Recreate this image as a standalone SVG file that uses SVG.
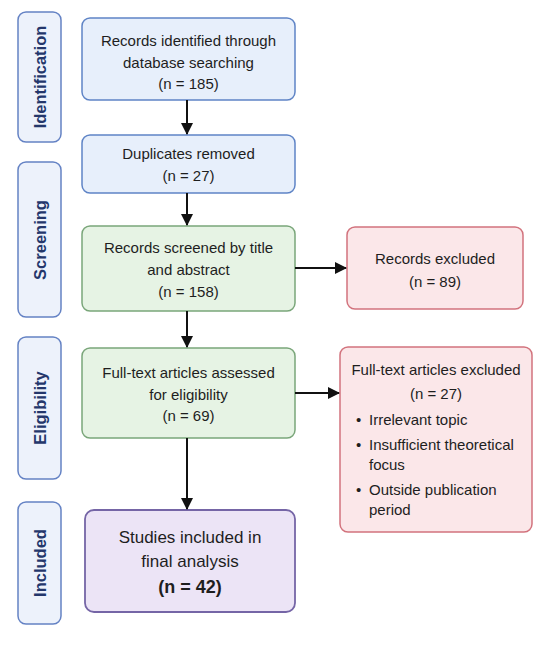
<svg xmlns="http://www.w3.org/2000/svg" width="538" height="671" viewBox="0 0 538 671">
<defs>
<marker id="ah" markerWidth="12" markerHeight="12" refX="11" refY="6" orient="auto" markerUnits="userSpaceOnUse">
<path d="M0,0 L12,6 L0,12 Z" fill="#111"/>
</marker>
<style>
.t{font-family:"Liberation Sans",Arial,sans-serif;font-size:15px;fill:#1e1e1e;text-anchor:middle}
.b{text-anchor:start}
.side rect{fill:#edf2fb;stroke:#6482c4;stroke-width:1.5}
.side text{font-family:"Liberation Sans",Arial,sans-serif;font-size:16.5px;font-weight:bold;fill:#24376b;text-anchor:middle}
.blue{fill:#e7effb;stroke:#5f84c6;stroke-width:1.5}
.green{fill:#e6f3e4;stroke:#7aa67a;stroke-width:1.5}
.red{fill:#fbe7e9;stroke:#d2737d;stroke-width:1.5}
.purple{fill:#ece4f6;stroke:#7565a6;stroke-width:1.8}
.c line{stroke:#111;stroke-width:2;fill:none}
</style>
</defs>
<rect width="538" height="671" fill="#ffffff"/>

<g id="side-identification" class="side">
<rect x="18" y="12" width="43" height="130" rx="8"/>
<text transform="translate(45.5,77) rotate(-90)">Identification</text>
</g>
<g id="side-screening" class="side">
<rect x="18" y="162" width="43" height="155" rx="8"/>
<text transform="translate(45.5,240) rotate(-90)">Screening</text>
</g>
<g id="side-eligibility" class="side">
<rect x="18" y="337" width="43" height="142" rx="8"/>
<text transform="translate(45.5,408) rotate(-90)">Eligibility</text>
</g>
<g id="side-included" class="side">
<rect x="18" y="502" width="43" height="122" rx="8"/>
<text transform="translate(45.5,563) rotate(-90)">Included</text>
</g>

<g id="identified">
<rect class="blue" x="82" y="18" width="213" height="82" rx="8"/>
<text class="t" x="188.5" y="46">Records identified through</text>
<text class="t" x="188.5" y="68">database searching</text>
<text class="t" x="188.5" y="89">(n = 185)</text>
</g>
<g id="duplicates">
<rect class="blue" x="82" y="135" width="213" height="58" rx="8"/>
<text class="t" x="188.5" y="159">Duplicates removed</text>
<text class="t" x="188.5" y="181">(n = 27)</text>
</g>
<g id="screened">
<rect class="green" x="82" y="226" width="213" height="85" rx="8"/>
<text class="t" x="188.5" y="253">Records screened by title</text>
<text class="t" x="188.5" y="275">and abstract</text>
<text class="t" x="188.5" y="297">(n = 158)</text>
</g>
<g id="fulltext">
<rect class="green" x="82" y="348" width="213" height="90" rx="8"/>
<text class="t" x="188.5" y="378">Full-text articles assessed</text>
<text class="t" x="188.5" y="400">for eligibility</text>
<text class="t" x="188.5" y="421">(n = 69)</text>
</g>
<g id="included">
<rect class="purple" x="85" y="510" width="210" height="102" rx="9"/>
<text class="t" x="190" y="543" style="font-size:17px">Studies included in</text>
<text class="t" x="190" y="567" style="font-size:17px">final analysis</text>
<text class="t" x="190" y="593" style="font-size:18px;font-weight:bold">(n = 42)</text>
</g>
<g id="excluded1">
<rect class="red" x="347" y="227" width="176" height="82" rx="8"/>
<text class="t" x="435" y="264">Records excluded</text>
<text class="t" x="435" y="287">(n = 89)</text>
</g>
<g id="excluded2">
<rect class="red" x="340" y="347" width="192" height="185" rx="8"/>
<text class="t" x="436" y="375">Full-text articles excluded</text>
<text class="t" x="436" y="399">(n = 27)</text>
<text class="t b" x="356" y="425">•</text>
<text class="t b" x="369" y="425">Irrelevant topic</text>
<text class="t b" x="356" y="450">•</text>
<text class="t b" x="369" y="450">Insufficient theoretical</text>
<text class="t b" x="369" y="470">focus</text>
<text class="t b" x="356" y="495">•</text>
<text class="t b" x="369" y="495">Outside publication</text>
<text class="t b" x="369" y="515">period</text>
</g>

<g id="connectors" class="c">
<line x1="187" y1="100" x2="187" y2="134" marker-end="url(#ah)"/>
<line x1="187" y1="193" x2="187" y2="225" marker-end="url(#ah)"/>
<line x1="187" y1="311" x2="187" y2="347" marker-end="url(#ah)"/>
<line x1="187" y1="438" x2="187" y2="509" marker-end="url(#ah)"/>
<line x1="295" y1="268" x2="346" y2="268" marker-end="url(#ah)"/>
<line x1="295" y1="393" x2="339" y2="393" marker-end="url(#ah)"/>
</g>
</svg>
